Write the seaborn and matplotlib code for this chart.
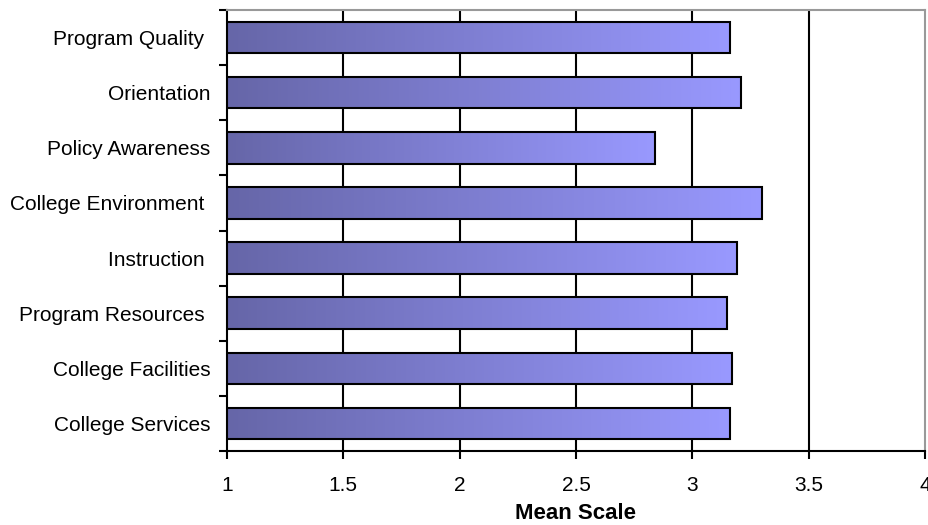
import numpy as np
import pandas as pd
import matplotlib
matplotlib.use("Agg")
import matplotlib.pyplot as plt
from matplotlib.colors import LinearSegmentedColormap
import seaborn as sns

categories = ["Program Quality ", "Orientation", "Policy Awareness", "College Environment ",
              "Instruction ", "Program Resources ", "College Facilities", "College Services"]
values = [3.16, 3.21, 2.84, 3.30, 3.19, 3.15, 3.17, 3.16]
x_ticks = [1, 1.5, 2, 2.5, 3, 3.5, 4]
x_tick_labels = ["1", "1.5", "2", "2.5", "3", "3.5", "4"]
x_label = "Mean Scale"

sns.set_theme(style="white")
plt.rcParams["font.family"] = ["Liberation Sans", "DejaVu Sans"]

df = pd.DataFrame({"category": categories, "value": values})

fig = plt.figure(figsize=(9.29, 5.25), dpi=100)
ax = fig.add_axes([227 / 929, 1 - 451 / 525, 698 / 929, 441 / 525])

sns.barplot(data=df, x="value", y="category", orient="h", width=0.57,
            color="#8080D0", edgecolor="black", linewidth=1.5, ax=ax, zorder=3)

cmap = LinearSegmentedColormap.from_list("grad", ["#6666A8", "#9999FF"])
grad = np.linspace(0, 1, 256).reshape(1, -1)
for p in ax.patches:
    x0, y0 = p.get_x(), p.get_y()
    w, h = p.get_width(), p.get_height()
    ax.imshow(grad, cmap=cmap, aspect="auto", interpolation="bilinear",
              extent=(1, x0 + w, y0 + h, y0), zorder=2.5)
    p.set_facecolor("none")

ax.set_xlim(1, 4)
ax.set_ylim(len(categories) - 0.5, -0.5)
ax.set_xticks(x_ticks)
ax.set_xticklabels(x_tick_labels)
ax.set_yticks(range(len(categories)))
ax.set_yticklabels(categories)
ax.set_yticks(np.arange(-0.5, len(categories), 1.0), minor=True)

ax.xaxis.grid(True, color="black", linewidth=1.5)
ax.set_axisbelow(True)
gls = ax.get_xgridlines()
gls[0].set_visible(False)
gls[-1].set_visible(False)

for side in ["left", "bottom"]:
    ax.spines[side].set_color("black")
    ax.spines[side].set_linewidth(1.5)
for side in ["top", "right"]:
    ax.spines[side].set_color("#999999")
    ax.spines[side].set_linewidth(1.5)

ax.tick_params(axis="x", which="major", bottom=True, length=6, width=1.5,
               color="black", pad=12, labelsize=15, labelcolor="black")
ax.tick_params(axis="y", which="major", left=False, length=0, pad=12,
               labelsize=15, labelcolor="black")
ax.tick_params(axis="y", which="minor", left=True, length=6, width=1.5, color="black")

ax.set_xlabel(x_label, fontsize=16, fontweight="bold", color="black", labelpad=6)
ax.set_ylabel("")

fig.savefig("out.png", dpi=100)
